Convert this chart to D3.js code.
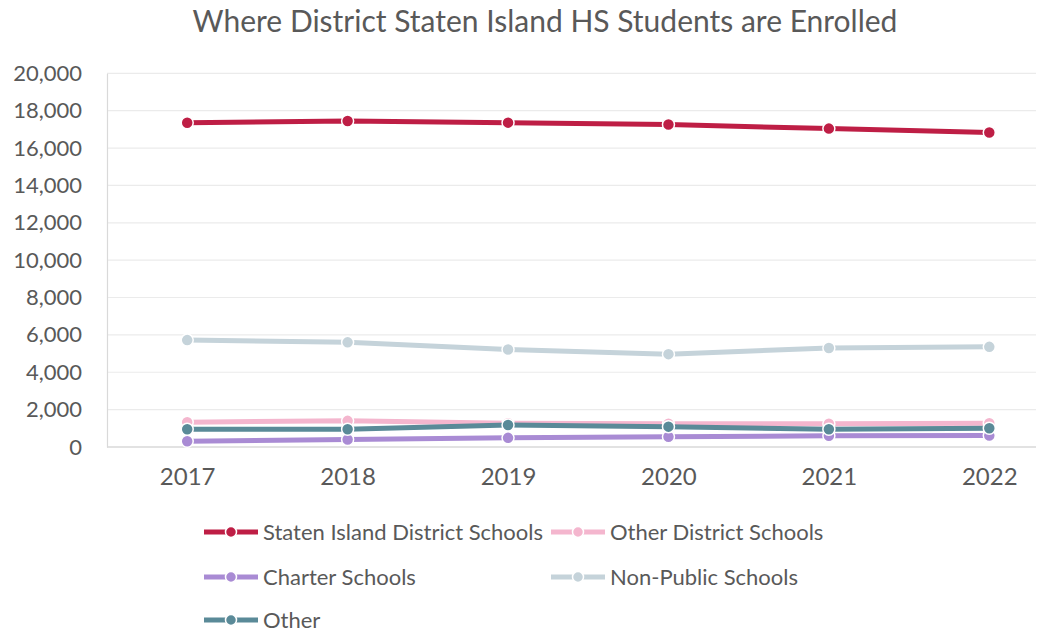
<!DOCTYPE html>
<html>
<head>
<meta charset="utf-8">
<script src="https://cdn.jsdelivr.net/npm/d3@7"></script>
<style>
  html, body { margin: 0; padding: 0; background: #fff; }
  svg { display: block; }
  text { font-family: Lato, "Open Sans", sans-serif; fill: #595959; }
</style>
</head>
<body>
<svg id="chart" width="1057" height="633"></svg>
<script>
const years = ["2017", "2018", "2019", "2020", "2021", "2022"];
const yTicks = [0, 2000, 4000, 6000, 8000, 10000, 12000, 14000, 16000, 18000, 20000];
const seriesNames = ["Staten Island District Schools", "Other District Schools", "Charter Schools", "Non-Public Schools", "Other"];
const seriesColors = ["#BE1E45", "#F4B6CE", "#A98BD4", "#C5D3DA", "#5A8A98"];
const statenIsland = [17350, 17450, 17360, 17260, 17040, 16830];
const otherDistrict = [1330, 1400, 1270, 1240, 1240, 1270];
const charter = [310, 400, 490, 545, 600, 610];
const nonPublic = [5720, 5600, 5220, 4970, 5300, 5360];
const other = [950, 950, 1180, 1090, 950, 1000];
const chartTitle = "Where District Staten Island HS Students are Enrolled";

const seriesValues = [statenIsland, otherDistrict, charter, nonPublic, other];
const series = seriesNames.map((n, i) => ({ name: n, color: seriesColors[i], values: seriesValues[i] }));

const svg = d3.select("#chart");
const pLeft = 107, pRight = 1069.5, pTop = 73.3, pBottom = 447;

const x = d3.scalePoint().domain(years).range([pLeft, pRight]).padding(0.5);
const y = d3.scaleLinear().domain([0, 20000]).range([pBottom, pTop]);

// title
svg.append("text").attr("x", 545).attr("y", 32).attr("text-anchor", "middle")
  .style("font-size", "30px").text(chartTitle);

// gridlines
svg.append("g").selectAll("line").data(yTicks.filter(d => d > 0)).join("line")
  .attr("x1", pLeft).attr("x2", 1036)
  .attr("y1", d => y(d)).attr("y2", d => y(d))
  .attr("stroke", "#EBEBEB").attr("stroke-width", 1.2);

// y axis
const yAxis = svg.append("g").attr("transform", `translate(${pLeft},0)`)
  .call(d3.axisLeft(y).tickValues(yTicks).tickSize(0).tickPadding(25).tickFormat(d3.format(",")));
yAxis.select(".domain").attr("stroke", "#D9D9D9").attr("stroke-width", 1.2);
yAxis.selectAll("text").style("font-size", "22px").style("fill", "#595959").attr("font-family", null);

// x axis
const xAxis = svg.append("g").attr("transform", `translate(0,${pBottom})`)
  .call(d3.axisBottom(x).tickSize(0).tickPadding(21));
xAxis.select(".domain").attr("d", `M${pLeft},0H1036`).attr("stroke", "#D9D9D9").attr("stroke-width", 1.5);
xAxis.selectAll("text").style("font-size", "24px").style("fill", "#595959").attr("font-family", null);

const line = d3.line().x((d, i) => x(years[i])).y(d => y(d));

// draw series (order so that overlapping matches reference)
const drawOrder = [3, 1, 2, 4, 0];
drawOrder.forEach(si => {
  const s = series[si];
  const g = svg.append("g");
  g.append("path").datum(s.values).attr("d", line)
    .attr("fill", "none").attr("stroke", s.color).attr("stroke-width", 5).attr("stroke-linejoin", "round");
  g.selectAll("circle").data(s.values).join("circle")
    .attr("cx", (d, i) => x(years[i])).attr("cy", d => y(d)).attr("r", 6)
    .attr("fill", s.color).attr("stroke", "#fff").attr("stroke-width", 1.5);
});

// legend
const legendPos = [[204, 532], [551, 532], [204, 577], [551, 577], [204, 620]];
series.forEach((s, i) => {
  const [lx, ly] = legendPos[i];
  const g = svg.append("g").attr("transform", `translate(${lx},${ly})`);
  g.append("line").attr("x1", 0).attr("x2", 54).attr("y1", 0).attr("y2", 0)
    .attr("stroke", s.color).attr("stroke-width", 5);
  g.append("circle").attr("cx", 27).attr("cy", 0).attr("r", 5.5)
    .attr("fill", s.color).attr("stroke", "#fff").attr("stroke-width", 1.5);
  g.append("text").attr("x", 59).attr("y", 0).attr("dy", "0.35em")
    .style("font-size", "22px").text(s.name);
});
</script>
</body>
</html>
